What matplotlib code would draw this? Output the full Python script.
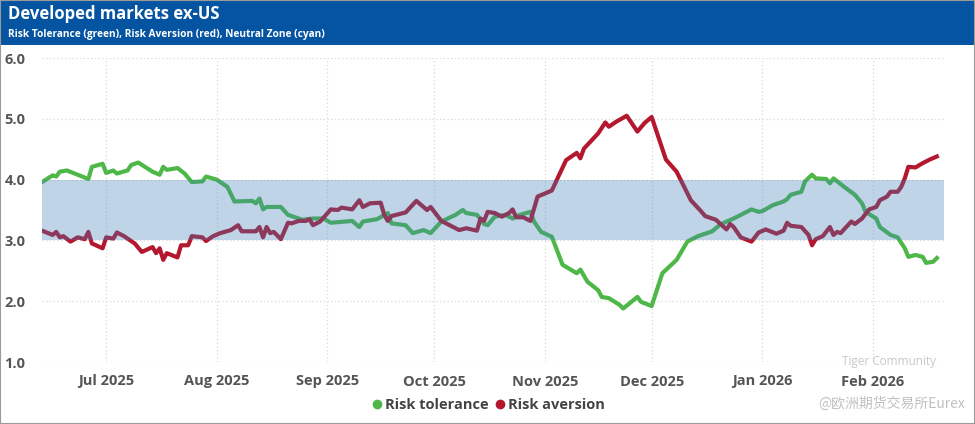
import matplotlib
matplotlib.use("Agg")
import matplotlib.pyplot as plt
import matplotlib.dates as mdates
from matplotlib.lines import Line2D
from matplotlib.patches import Rectangle
import pandas as pd

# Risk tolerance (green) values
tol_dates = [
    "2025-06-13", "2025-06-16", "2025-06-17", "2025-06-18", "2025-06-20", "2025-06-26",
    "2025-06-27", "2025-06-30", "2025-07-01", "2025-07-03", "2025-07-04", "2025-07-07",
    "2025-07-08", "2025-07-10", "2025-07-14", "2025-07-16", "2025-07-17", "2025-07-18",
    "2025-07-21", "2025-07-23", "2025-07-25", "2025-07-28", "2025-07-29", "2025-08-01",
    "2025-08-04", "2025-08-06", "2025-08-11", "2025-08-12", "2025-08-13", "2025-08-14",
    "2025-08-15", "2025-08-19", "2025-08-21", "2025-08-25", "2025-08-28", "2025-08-31",
    "2025-09-02", "2025-09-08", "2025-09-10", "2025-09-11", "2025-09-15", "2025-09-18",
    "2025-09-19", "2025-09-23", "2025-09-25", "2025-09-28", "2025-09-30", "2025-10-03",
    "2025-10-07", "2025-10-09", "2025-10-10", "2025-10-13", "2025-10-15", "2025-10-16",
    "2025-10-18", "2025-10-21", "2025-10-23", "2025-10-25", "2025-10-28", "2025-10-29",
    "2025-10-31", "2025-11-03", "2025-11-06", "2025-11-10", "2025-11-11", "2025-11-13",
    "2025-11-16", "2025-11-17", "2025-11-19", "2025-11-22", "2025-11-23", "2025-11-27",
    "2025-11-28", "2025-12-01", "2025-12-04", "2025-12-08", "2025-12-11", "2025-12-14",
    "2025-12-18", "2025-12-20", "2025-12-22", "2025-12-24", "2025-12-29", "2025-12-31",
    "2026-01-01", "2026-01-04", "2026-01-07", "2026-01-08", "2026-01-09", "2026-01-12",
    "2026-01-13", "2026-01-15", "2026-01-16", "2026-01-19", "2026-01-20", "2026-01-21",
    "2026-01-24", "2026-01-27", "2026-01-29", "2026-01-30", "2026-02-02", "2026-02-03",
    "2026-02-06", "2026-02-08", "2026-02-10", "2026-02-11", "2026-02-13", "2026-02-15",
    "2026-02-16", "2026-02-18", "2026-02-19",
]
tol_values = [
    3.96, 4.07, 4.05, 4.13, 4.15, 4.01,
    4.21, 4.26, 4.11, 4.15, 4.10, 4.15,
    4.24, 4.28, 4.13, 4.08, 4.21, 4.16,
    4.19, 4.10, 3.96, 3.97, 4.05, 4.00,
    3.88, 3.64, 3.65, 3.61, 3.69, 3.51,
    3.55, 3.55, 3.42, 3.34, 3.36, 3.36,
    3.29, 3.32, 3.22, 3.31, 3.35, 3.45,
    3.28, 3.25, 3.12, 3.17, 3.12, 3.31,
    3.42, 3.50, 3.45, 3.42, 3.27, 3.25,
    3.39, 3.42, 3.36, 3.42, 3.47, 3.31,
    3.14, 3.06, 2.60, 2.46, 2.52, 2.32,
    2.18, 2.07, 2.05, 1.94, 1.88, 2.07,
    1.99, 1.92, 2.46, 2.68, 2.98, 3.07,
    3.15, 3.25, 3.31, 3.36, 3.51, 3.47,
    3.48, 3.58, 3.64, 3.68, 3.75, 3.80,
    3.97, 4.08, 4.02, 4.01, 3.94, 4.02,
    3.88, 3.75, 3.61, 3.47, 3.36, 3.22,
    3.09, 3.05, 2.87, 2.73, 2.76, 2.73,
    2.63, 2.65, 2.71,
]

# Risk aversion (red)
av_dates = [
    "2025-06-13", "2025-06-16", "2025-06-17", "2025-06-18", "2025-06-19", "2025-06-21",
    "2025-06-23", "2025-06-25", "2025-06-26", "2025-06-27", "2025-06-30", "2025-07-01",
    "2025-07-03", "2025-07-04", "2025-07-06", "2025-07-09", "2025-07-11", "2025-07-14",
    "2025-07-15", "2025-07-16", "2025-07-17", "2025-07-18", "2025-07-21", "2025-07-22",
    "2025-07-24", "2025-07-25", "2025-07-28", "2025-07-29", "2025-07-31", "2025-08-02",
    "2025-08-05", "2025-08-07", "2025-08-08", "2025-08-12", "2025-08-13", "2025-08-14",
    "2025-08-15", "2025-08-16", "2025-08-17", "2025-08-19", "2025-08-21", "2025-08-22",
    "2025-08-24", "2025-08-26", "2025-08-27", "2025-08-28", "2025-08-30", "2025-09-02",
    "2025-09-04", "2025-09-05", "2025-09-08", "2025-09-10", "2025-09-11", "2025-09-13",
    "2025-09-16", "2025-09-17", "2025-09-18", "2025-09-19", "2025-09-23", "2025-09-26",
    "2025-09-29", "2025-09-30", "2025-10-03", "2025-10-08", "2025-10-10", "2025-10-13",
    "2025-10-14", "2025-10-15", "2025-10-16", "2025-10-18", "2025-10-20", "2025-10-22",
    "2025-10-23", "2025-10-24", "2025-10-26", "2025-10-28", "2025-10-30", "2025-11-03",
    "2025-11-07", "2025-11-10", "2025-11-11", "2025-11-12", "2025-11-16", "2025-11-18",
    "2025-11-19", "2025-11-21", "2025-11-24", "2025-11-27", "2025-11-29", "2025-12-01",
    "2025-12-05", "2025-12-08", "2025-12-12", "2025-12-15", "2025-12-16", "2025-12-19",
    "2025-12-22", "2025-12-23", "2025-12-24", "2025-12-26", "2025-12-29", "2025-12-31",
    "2026-01-02", "2026-01-05", "2026-01-07", "2026-01-08", "2026-01-09", "2026-01-12",
    "2026-01-14", "2026-01-15", "2026-01-16", "2026-01-18", "2026-01-20", "2026-01-21",
    "2026-01-22", "2026-01-23", "2026-01-26", "2026-01-27", "2026-01-29", "2026-01-31",
    "2026-02-02", "2026-02-03", "2026-02-05", "2026-02-06", "2026-02-08", "2026-02-09",
    "2026-02-10", "2026-02-11", "2026-02-13", "2026-02-15", "2026-02-17", "2026-02-19",
]
av_values = [
    3.16, 3.09, 3.14, 3.05, 3.07, 2.98,
    3.05, 3.02, 3.14, 2.95, 2.87, 3.05,
    3.03, 3.13, 3.07, 2.95, 2.81, 2.89,
    2.79, 2.87, 2.68, 2.79, 2.72, 2.92,
    2.92, 3.07, 3.05, 2.99, 3.07, 3.12,
    3.17, 3.25, 3.15, 3.15, 3.22, 3.05,
    3.22, 3.12, 3.14, 3.02, 3.29, 3.28,
    3.32, 3.32, 3.35, 3.25, 3.31, 3.51,
    3.50, 3.54, 3.51, 3.66, 3.55, 3.61,
    3.62, 3.42, 3.32, 3.40, 3.46, 3.65,
    3.50, 3.55, 3.32, 3.17, 3.20, 3.16,
    3.36, 3.32, 3.47, 3.45, 3.39, 3.45,
    3.51, 3.38, 3.38, 3.32, 3.72, 3.82,
    4.32, 4.44, 4.35, 4.51, 4.76, 4.94,
    4.87, 4.95, 5.05, 4.79, 4.93, 5.03,
    4.33, 4.13, 3.66, 3.47, 3.40, 3.34,
    3.18, 3.27, 3.22, 3.05, 2.98, 3.13,
    3.18, 3.11, 3.16, 3.29, 3.24, 3.22,
    3.09, 2.92, 3.02, 3.07, 3.22, 3.09,
    3.14, 3.12, 3.31, 3.27, 3.36, 3.51,
    3.55, 3.66, 3.72, 3.80, 3.80, 3.88,
    4.02, 4.21, 4.20, 4.27, 4.33, 4.38,
]

zone_low, zone_high = 3.0, 4.0
y_ticks = [1.0, 2.0, 3.0, 4.0, 5.0, 6.0]
month_ticks = ["2025-07-01", "2025-08-01", "2025-09-01", "2025-10-01",
               "2025-11-01", "2025-12-01", "2026-01-01", "2026-02-01"]

green = "#4db848"
red = "#b3182f"
band = "#3f7fb8"
title_blue = "#0554a2"
label_gray = "#555555"

plt.rcParams['font.family'] = ['Open Sans', 'DejaVu Sans']

fig = plt.figure(figsize=(9.75, 4.24), dpi=100)

# title bar
fig.patches.append(Rectangle((0, 1 - 45/424), 1, 45/424, transform=fig.transFigure,
                             facecolor=title_blue, edgecolor='none', zorder=0))
fig.patches.append(Rectangle((0, 0), 1, 1, transform=fig.transFigure,
                             facecolor='none', edgecolor='#9a9a9a', linewidth=1.5, zorder=5))
fig.text(8/975, 1 - 14/424, "Developed markets ex-US", color='white',
         fontsize=12, fontweight='bold', va='center', ha='left')
fig.text(8/975, 1 - 35/424, "Risk Tolerance (green), Risk Aversion (red), Neutral Zone (cyan)",
         color='white', fontsize=7.3, fontweight='bold', va='center', ha='left')

ax = fig.add_axes([42/975, 1 - 362/424, (944 - 42)/975, (362 - 58)/424])

ax.plot(pd.to_datetime(tol_dates), tol_values, color=green, lw=3.0,
        solid_joinstyle='round', zorder=2)
ax.plot(pd.to_datetime(av_dates), av_values, color=red, lw=3.0,
        solid_joinstyle='round', zorder=2)
# neutral zone drawn on top, semi transparent
ax.axhspan(zone_low, zone_high, color=band, alpha=0.33, lw=0, zorder=3)

ax.set_ylim(1.0, 6.0)
ax.set_xlim(pd.Timestamp("2025-06-13"), pd.Timestamp("2026-02-21"))
ax.set_yticks(y_ticks)
ax.set_yticklabels([f"{v:.1f}" for v in y_ticks])
ax.set_xticks(pd.to_datetime(month_ticks))
ax.xaxis.set_major_formatter(mdates.DateFormatter("%b %Y"))

ax.grid(True, color='#d9d9d9', linestyle=(0, (1, 2)), linewidth=0.9, zorder=0)
for s in ax.spines.values():
    s.set_visible(False)
ax.tick_params(length=0, labelsize=10.5, labelcolor=label_gray)
ax.tick_params(axis='y', pad=12)
ax.tick_params(axis='x', pad=9)
for lbl in ax.get_xticklabels() + ax.get_yticklabels():
    lbl.set_fontweight('bold')

handles = [
    Line2D([], [], marker='o', linestyle='none', color=green, markersize=6),
    Line2D([], [], marker='o', linestyle='none', color=red, markersize=6),
]
leg = fig.legend(handles, ["Risk tolerance", "Risk aversion"], loc='center',
                 bbox_to_anchor=(0.5, 1 - 405/424), ncol=2, frameon=False,
                 handletextpad=0.05, columnspacing=0.3, handlelength=1.0,
                 prop={'size': 10.5, 'weight': 'bold'})
for t in leg.get_texts():
    t.set_color('#444444')

# platform watermark
fig.text(842/975, 1 - 362/424, "Tiger Community", color='#c8c8c8', fontsize=8.5,
         ha='left', va='center')
fig.text(965/975, 1 - 404/424, "@欧洲期货交易所Eurex", color='#c0c0c0', fontsize=10,
         ha='right', va='center', family=['Noto Sans CJK SC', 'DejaVu Sans'])

fig.savefig("out.png", dpi=100)
